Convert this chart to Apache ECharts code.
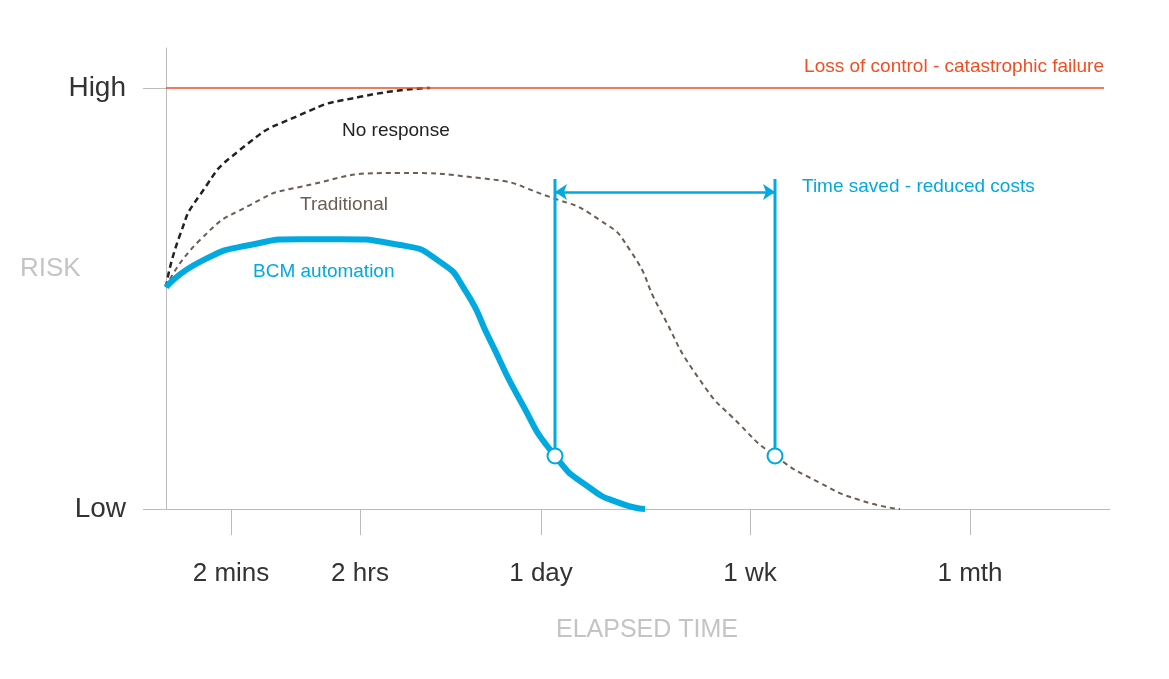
<!DOCTYPE html>
<html><head><meta charset="utf-8">
<script src="https://cdn.jsdelivr.net/npm/echarts@6/dist/echarts.min.js"></script>
<style>html,body{margin:0;background:#fff}#c{width:1169px;height:679px}</style></head>
<body><div id="c"></div>
<script>
// x: elapsed-time position (0..944), y: risk (0 = Low, 100 = High)
const tickPositions = [65, 194, 375, 584, 804];
const tickLabels = ['2 mins', '2 hrs', '1 day', '1 wk', '1 mth'];
const bcmX = [0, 34, 84, 134, 174, 234, 274, 299, 324, 354, 389, 424, 454, 479];
const bcmY = [52.7, 58.7, 62.7, 64.1, 64.1, 62.7, 58.7, 52.0, 40.1, 25.9, 12.6, 5.0, 1.4, 0];
const tradX = [0, 34, 84, 134, 234, 314, 384, 434, 464, 494, 534, 574, 609, 654, 694, 734];
const tradY = [52.7, 63.9, 72.2, 76.5, 79.8, 78.6, 74.1, 68.6, 61.5, 47.3, 30.6, 20.0, 12.6, 6.2, 2.1, 0];
const noRespX = [0, 14, 34, 74, 134, 194, 264];
const noRespY = [52.7, 65.1, 74.6, 85.3, 93.6, 97.9, 100];
const savedX = [389, 609];
const savedTop = 78.4, savedBottom = 12.6, arrowY = 75.3;

const zip = (a, b) => a.map((v, i) => [v, b[i]]);
const blue = '#00a9e0';
const chart = echarts.init(document.getElementById('c'));
chart.setOption({
  animation: false,
  grid: {left: 166, top: 48, width: 944, height: 461},
  xAxis: {type: 'value', min: 0, max: 944,
    axisLine: {lineStyle: {color: '#bbb'}},
    splitLine: {show: false},
    axisTick: {customValues: tickPositions, length: 26, lineStyle: {color: '#bbb'}},
    axisLabel: {customValues: tickPositions, formatter: v => tickLabels[tickPositions.indexOf(v)],
      margin: 52, fontSize: 26, color: '#333', fontFamily: 'Liberation Sans'}},
  yAxis: {type: 'value', min: 0, max: 109.5,
    axisLine: {show: true, lineStyle: {color: '#bbb'}},
    splitLine: {show: false},
    axisTick: {show: true, inside: false, customValues: [0, 100], length: 23, lineStyle: {color: '#bbb'}},
    axisLabel: {customValues: [0, 100], formatter: v => v === 0 ? 'Low' : 'High',
      margin: 40, fontSize: 28, color: '#333', fontFamily: 'Liberation Sans'}},
  series: [
    {type: 'line', data: zip(noRespX, noRespY), smooth: 0.6, symbol: 'none',
      lineStyle: {color: '#222', width: 2.5, type: [6, 4]}},
    {type: 'line', data: zip(tradX, tradY), smooth: 0.6, symbol: 'none',
      lineStyle: {color: '#6b5d52', width: 2, type: [5, 4]},
      markLine: {silent: true, symbol: 'none', label: {show: false},
        lineStyle: {color: '#f04e23', width: 1.5, type: 'solid'},
        data: [[{coord: [0, 100]}, {coord: [938, 100]}]]}},
    {type: 'line', data: zip(bcmX, bcmY), smooth: 0.6, symbol: 'none',
      lineStyle: {color: blue, width: 6}},
    ...savedX.map(x => ({type: 'line', data: [[x, savedTop], [x, savedBottom]], z: 5,
      symbol: 'circle', symbolSize: (v, p) => p.dataIndex === 1 ? 15 : 0,
      itemStyle: {color: '#fff', borderColor: blue, borderWidth: 2},
      lineStyle: {color: blue, width: 3}})),
    {type: 'line', data: [], markLine: {silent: true, symbol: ['arrow', 'arrow'], symbolSize: 12,
      label: {show: false}, lineStyle: {color: blue, width: 2.5, type: 'solid'},
      data: [[{coord: [savedX[0], arrowY]}, {coord: [savedX[1], arrowY]}]]}}
  ],
  graphic: [
    {type: 'text', right: 65, top: 57, style: {text: 'Loss of control - catastrophic failure', fill: '#f04e23', font: '19px Liberation Sans'}},
    {type: 'text', left: 342, top: 121, style: {text: 'No response', fill: '#222', font: '19px Liberation Sans'}},
    {type: 'text', left: 300, top: 195, style: {text: 'Traditional', fill: '#6b5d52', font: '19px Liberation Sans'}},
    {type: 'text', left: 253, top: 262, style: {text: 'BCM automation', fill: blue, font: '19px Liberation Sans'}},
    {type: 'text', left: 802, top: 177, style: {text: 'Time saved - reduced costs', fill: blue, font: '19px Liberation Sans'}},
    {type: 'text', left: 20, top: 256, style: {text: 'RISK', fill: '#c4c4c4', font: '26px Liberation Sans'}},
    {type: 'text', left: 556, top: 618, style: {text: 'ELAPSED TIME', fill: '#c4c4c4', font: '25px Liberation Sans'}}
  ]
});
</script></body></html>
